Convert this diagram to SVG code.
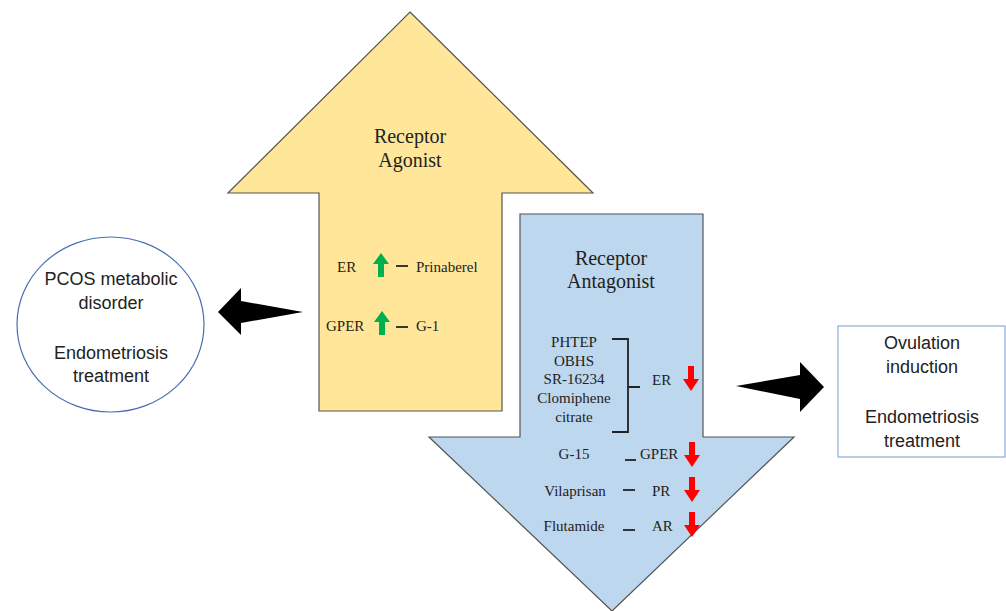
<svg xmlns="http://www.w3.org/2000/svg" xmlns:xlink="http://www.w3.org/1999/xlink" width="1006" height="611" viewBox="0 0 1006 611">
<style>
.serif{font-family:"Liberation Serif","Times New Roman",serif;fill:#222}
.sans{font-family:"Liberation Sans",Arial,sans-serif;fill:#222;font-size:18px}
.title{font-size:20px}
.lbl{font-size:15px}
.dash{stroke:#222;stroke-width:1.8}
.big{stroke:#555;stroke-width:1.2}
</style>
<defs>
<path id="up" d="M0,0 L8,11 L3,11 L3,24 L-3,24 L-3,11 L-8,11 Z" fill="#00b050"/>
<path id="down" d="M-3,0 L3,0 L3,13 L8,13 L0,25 L-8,13 L-3,13 Z" fill="#ff0000"/>
</defs>
<rect width="1006" height="611" fill="#fff"/>

<g id="agonist">
<polygon class="big" fill="#ffe699" points="410,12 593,193 502,193 502,411 319,411 319,193 228,193"/>
<text class="serif title" x="410" y="143" text-anchor="middle">Receptor</text>
<text class="serif title" x="410" y="167" text-anchor="middle">Agonist</text>
<text class="serif lbl" x="337" y="272">ER</text>
<use xlink:href="#up" x="381" y="253"/>
<line class="dash" x1="396" y1="266" x2="408" y2="266"/>
<text class="serif lbl" x="416" y="272">Prinaberel</text>
<text class="serif lbl" x="326" y="331">GPER</text>
<use xlink:href="#up" x="382" y="311"/>
<line class="dash" x1="396" y1="327" x2="408" y2="327"/>
<text class="serif lbl" x="416" y="331">G-1</text>
</g>

<g id="antagonist">
<polygon class="big" fill="#bdd7ee" points="520,214 703,214 703,437 794,437 612,611 429,437 520,437"/>
<text class="serif title" x="611" y="265" text-anchor="middle">Receptor</text>
<text class="serif title" x="611" y="288" text-anchor="middle">Antagonist</text>
<g class="serif lbl" text-anchor="middle">
<text x="574" y="347">PHTEP</text>
<text x="574" y="366">OBHS</text>
<text x="574" y="384">SR-16234</text>
<text x="574" y="403">Clomiphene</text>
<text x="574" y="422">citrate</text>
<text x="574" y="459">G-15</text>
<text x="575" y="496">Vilaprisan</text>
<text x="574" y="531">Flutamide</text>
</g>
<path d="M612,339 L628,339 L628,432 L612,432 M628,387 L640,387" fill="none" stroke="#222" stroke-width="1.8"/>
<text class="serif lbl" x="652" y="385">ER</text>
<use xlink:href="#down" x="691" y="366"/>
<line class="dash" x1="625" y1="460" x2="636" y2="460"/>
<text class="serif lbl" x="640" y="459">GPER</text>
<use xlink:href="#down" x="692" y="442"/>
<line class="dash" x1="623" y1="490" x2="635" y2="490"/>
<text class="serif lbl" x="652" y="496">PR</text>
<use xlink:href="#down" x="692" y="477"/>
<line class="dash" x1="623" y1="530" x2="635" y2="530"/>
<text class="serif lbl" x="652" y="531">AR</text>
<use xlink:href="#down" x="692" y="512"/>
</g>

<g id="pcos">
<ellipse cx="110.5" cy="324.5" rx="93.5" ry="87.5" fill="#fff" stroke="#4a6db5" stroke-width="1.2"/>
<g class="sans" text-anchor="middle">
<text x="111" y="285">PCOS metabolic</text>
<text x="111" y="309">disorder</text>
<text x="111" y="359">Endometriosis</text>
<text x="111" y="382">treatment</text>
</g>
</g>

<g id="ovulation">
<rect x="838" y="326" width="167" height="131" fill="#fff" stroke="#8eaadb" stroke-width="1.2"/>
<g class="sans" text-anchor="middle">
<text x="922" y="349">Ovulation</text>
<text x="922" y="373">induction</text>
<text x="922" y="423">Endometriosis</text>
<text x="922" y="447">treatment</text>
</g>
</g>

<g id="connectors">
<polygon fill="#000" points="218,312 241,288 241,301 303,312 241,323 241,335"/>
<polygon fill="#000" points="824,387 800,362 800,375 736,386 800,399 800,412"/>
</g>
</svg>
